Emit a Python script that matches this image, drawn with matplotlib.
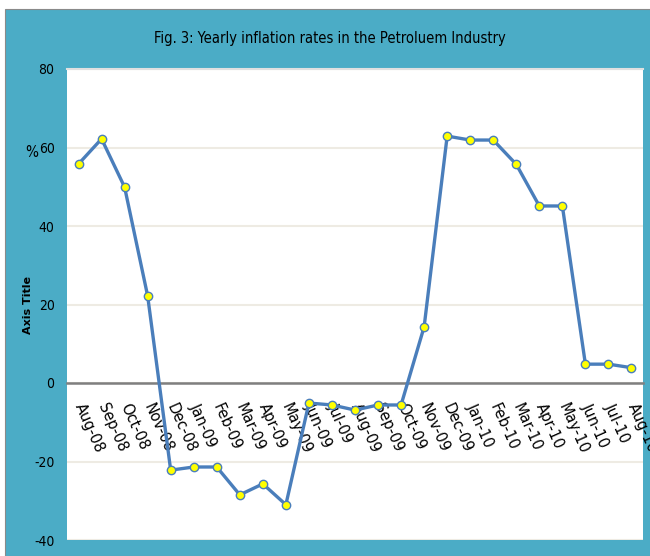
import matplotlib.pyplot as plt
from matplotlib.patches import Rectangle

months = ["Aug-08", "Sep-08", "Oct-08", "Nov-08", "Dec-08", "Jan-09", "Feb-09",
          "Mar-09", "Apr-09", "May-09", "Jun-09", "Jul-09", "Aug-09", "Sep-09",
          "Oct-09", "Nov-09", "Dec-09", "Jan-10", "Feb-10", "Mar-10", "Apr-10",
          "May-10", "Jun-10", "Jul-10", "Aug-10"]
inflation = [55.8, 62.2, 49.9, 22.2, -22.2, -21.4, -21.4, -28.5, -25.7, -31.0,
             -5.1, -5.6, -6.9, -5.6, -5.6, 14.3, 62.9, 61.9, 61.9, 55.7, 45.1,
             45.1, 4.8, 4.8, 3.9]
yticks = [-40, -20, 0, 20, 40, 60, 80]

panel_blue = "#4BACC6"
line_blue = "#4A7EBB"
narrow = dict(family="DejaVu Sans", stretch="condensed")

fig = plt.figure(figsize=(6.5, 5.56), dpi=100)
fig.patch.set_facecolor("white")
fig.add_artist(Rectangle((5 / 650, 0), 1, (556 - 9) / 556, transform=fig.transFigure,
                         facecolor=panel_blue, edgecolor="#8a8a8a", linewidth=0.8, zorder=-5))

ax = fig.add_axes([67 / 650, 16 / 556, 576 / 650, 471 / 556])
ax.set_facecolor("white")

x = list(range(len(months)))
ax.plot(x, inflation, color=line_blue, linewidth=2.4, marker="o", markersize=6,
        markerfacecolor="#FFFF00", markeredgecolor=line_blue, markeredgewidth=1, zorder=3)

ax.set_xlim(-0.5, len(months) - 0.5)
ax.set_ylim(-40, 80)
ax.set_yticks(yticks)
ax.set_yticklabels([str(v) for v in yticks], fontsize=10, **narrow)
ax.tick_params(axis="y", length=0, pad=9)
ax.yaxis.grid(True, color="#EEEBE3", linewidth=1.5)
ax.set_axisbelow(True)

# category axis crosses at zero
ax.spines["bottom"].set_position(("data", 0))
ax.spines["bottom"].set_color("#7F7F7F")
ax.spines["bottom"].set_linewidth(1.8)
ax.spines["bottom"].set_zorder(2)
for side in ["left", "right"]:
    ax.spines[side].set_visible(False)
ax.spines["top"].set_color("#E0E0E0")
ax.spines["top"].set_linewidth(1.5)
ax.set_xticks(x)
ax.set_xticklabels(months, rotation=-66, ha="left", va="center", rotation_mode="anchor",
                   fontsize=10.5)
ax.tick_params(axis="x", length=0, pad=15)

fig.text(330 / 650, 1 - 38 / 556, "Fig. 3: Yearly inflation rates in the Petroluem Industry",
         ha="center", va="center", fontsize=10.5, **narrow)
fig.text(32 / 650, 1 - 152 / 556, "%", ha="center", va="center", fontsize=11, **narrow)
fig.text(28 / 650, 1 - 305 / 556, "Axis Title", ha="center", va="center", rotation=90,
         fontsize=8, fontweight="bold")

fig.savefig("out.png", dpi=100)
